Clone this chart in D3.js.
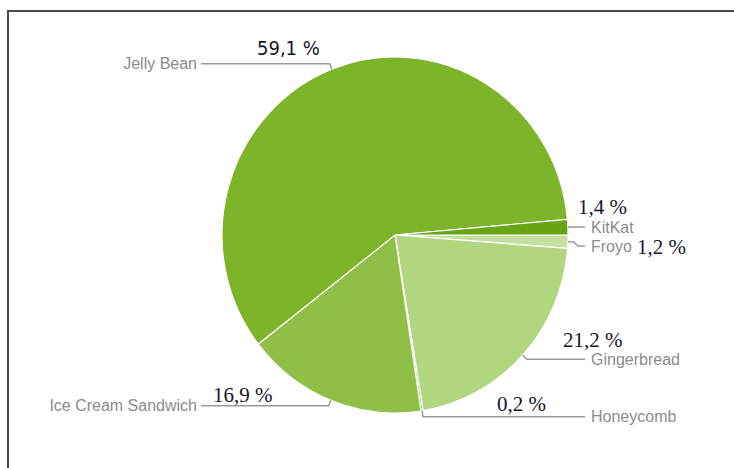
<!DOCTYPE html>
<html>
<head>
<meta charset="utf-8">
<script src="https://cdn.jsdelivr.net/npm/d3@7"></script>
<style>
  body { margin: 0; background: #fff; }
  .name { font-family: "Liberation Sans", Arial, sans-serif; font-size: 16px; fill: #8c8c8c; }
  .pct { font-family: "Liberation Serif", "Times New Roman", serif; font-size: 21px; fill: #15152a; }
  .pct.sans { font-family: "DejaVu Sans Condensed", "DejaVu Sans", sans-serif; font-stretch: condensed; font-size: 20px; }
</style>
</head>
<body>
<svg id="chart" width="734" height="468"></svg>
<script>
// android versions, in the order the slices run clockwise from 3 o'clock
var versions = ["Froyo", "Gingerbread", "Honeycomb", "Ice Cream Sandwich", "Jelly Bean", "KitKat"];
var shares   = [1.2, 21.2, 0.2, 16.9, 59.1, 1.4];
var colors   = ["#c4e09e", "#b2d57f", "#9fca5c", "#8fbf46", "#7db42a", "#69a513"];

// where each percentage sits, relative to the end of its leader
var pctDx = [52, -22, -88, 12, 56, -7];
var pctDy = [8, -12, -6, -4, -9, -13];

var svg = d3.select("#chart");

// frame
svg.append("rect")
  .attr("x", 8).attr("y", 11)
  .attr("width", 760).attr("height", 500)
  .attr("fill", "none").attr("stroke", "#4a4a4a").attr("stroke-width", 2);

var cx = 395, cy = 235, r = 178, sx = 0.972;

var pie = d3.pie().sort(null).value(function(d){ return d; })
  .startAngle(Math.PI / 2).endAngle(Math.PI / 2 + 2 * Math.PI);
var arcs = pie(shares);

var arc = d3.arc().innerRadius(0).outerRadius(r);

var g = svg.append("g").attr("transform", "translate(" + cx + "," + cy + ") scale(" + sx + ",1)");
g.selectAll("path")
  .data(arcs)
  .enter()
  .append("path")
  .attr("d", arc)
  .attr("fill", function(d, i){ return colors[i]; })
  .attr("stroke", "#fff")
  .attr("stroke-width", 1.2);

// leader points
function pt(a, rad) {
  return [cx + Math.sin(a) * rad * sx, cy - Math.cos(a) * rad];
}
var labels = arcs.map(function(d, i){
  var mid = (d.startAngle + d.endAngle) / 2;
  var p0 = pt(mid, r), p1 = pt(mid, r + 6);
  return { i: i, p0: p0, p1: p1, right: Math.sin(mid) > 0, y: p1[1] };
});

// keep labels on each side apart
[true, false].forEach(function(side){
  var s = labels.filter(function(l){ return l.right === side; })
    .sort(function(a, b){ return a.y - b.y; });
  for (var k = 1; k < s.length; k++) {
    if (s[k].y < s[k-1].y + 19) s[k].y = s[k-1].y + 19;
  }
});

var leftEnd = 201, rightEnd = 585;
var fmt = d3.format(".1f");

labels.forEach(function(l){
  var ex = l.right ? rightEnd : leftEnd;
  svg.append("path")
    .attr("d", d3.line()([l.p0, l.p1, [l.p1[0] + (l.right ? 4 : -4), l.y], [ex, l.y]]))
    .attr("fill", "none").attr("stroke", "#9a9a9a").attr("stroke-width", 1.5);

  svg.append("text")
    .attr("class", "name")
    .attr("x", l.right ? ex + 6 : ex - 4)
    .attr("y", l.y)
    .attr("dy", "0.35em")
    .attr("text-anchor", l.right ? "start" : "end")
    .text(versions[l.i]);

  svg.append("text")
    .attr("class", versions[l.i] === "Jelly Bean" ? "pct sans" : "pct")
    .attr("x", ex + pctDx[l.i])
    .attr("y", l.y + pctDy[l.i])
    .text(fmt(shares[l.i]).replace(".", ",") + " %");
});
</script>
</body>
</html>
